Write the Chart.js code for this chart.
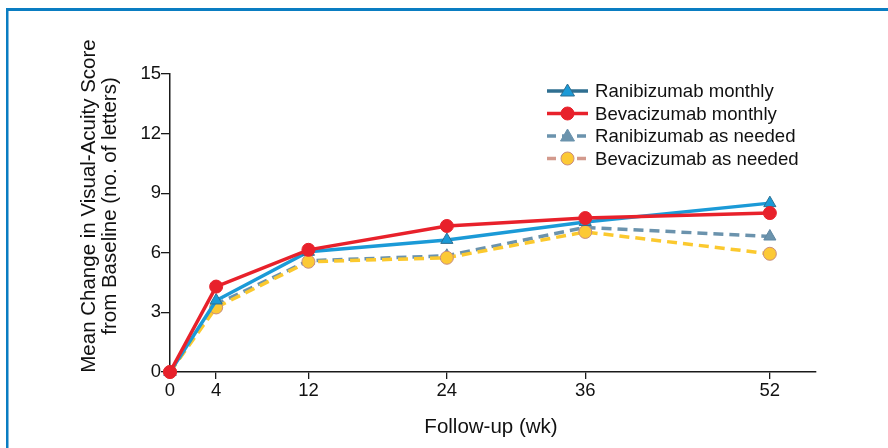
<!DOCTYPE html>
<html>
<head>
<meta charset="utf-8">
<script src="https://cdn.jsdelivr.net/npm/chart.js@4"></script>
<style>
html,body{margin:0;padding:0;background:#fff;}
#wrap{width:888px;height:448px;position:relative;}
</style>
</head>
<body>
<div id="wrap"><canvas id="c" width="888" height="448"></canvas></div>
<script>
const weeks = [0, 4, 12, 24, 36, 52];
const xTicks = [0, 4, 12, 24, 36, 52];
const yTicks = [0, 3, 6, 9, 12, 15];
const seriesNames = ["Ranibizumab monthly", "Bevacizumab monthly", "Ranibizumab as needed", "Bevacizumab as needed"];
const raniMonthly = [0, 3.6, 6.05, 6.65, 7.55, 8.5];
const bevaMonthly = [0, 4.3, 6.15, 7.35, 7.75, 8.0];
const raniPRN = [0, 3.4, 5.6, 5.85, 7.28, 6.82];
const bevaPRN = [0, 3.25, 5.55, 5.75, 7.05, 5.95];
const xTitle = "Follow-up (wk)";
const yTitle = ["Mean Change in Visual-Acuity Score", "from Baseline (no. of letters)"];

const FONT = "'Liberation Sans', Arial, Helvetica, sans-serif";
const TEXT = "#111111";
const toXY = (arr) => arr.map((v, i) => ({x: weeks[i], y: v}));

const legendStyles = [
  {line: "#2f6f91", dash: [], marker: "triangle", fill: "#1b9ad7", stroke: "#2f6f91"},
  {line: "#e8212b", dash: [], marker: "circle", fill: "#e8212b", stroke: "#e8212b"},
  {line: "#6b93ad", dash: [9, 6], marker: "triangle", fill: "#6b93ad", stroke: "#6b93ad"},
  {line: "#d39a8d", dash: [9, 6], marker: "circle", fill: "#fcc935", stroke: "#c98d7d"}
];

const framePlugin = {
  id: "frame",
  beforeDraw(chart) {
    const ctx = chart.ctx;
    ctx.save();
    ctx.fillStyle = "#fff";
    ctx.fillRect(0, 0, chart.width, chart.height);
    ctx.fillStyle = "#0a7dc2";
    ctx.fillRect(6, 8, 888 - 6, 3);
    ctx.fillRect(6, 8, 2.5, 448 - 8);
    ctx.restore();
  },
  afterDraw(chart) {
    const ctx = chart.ctx;
    ctx.save();
    ctx.fillStyle = TEXT;
    ctx.font = "20.5px " + FONT;
    ctx.textAlign = "center";
    ctx.textBaseline = "alphabetic";
    ctx.fillText(xTitle, 491, 433);
    ctx.save();
    ctx.translate(95, 206);
    ctx.rotate(-Math.PI / 2);
    ctx.fillText(yTitle[0], 0, 0);
    ctx.fillText(yTitle[1], 0, 21);
    ctx.restore();
    const x0 = 547, x1 = 588, tx = 595;
    const rows = [91, 113.5, 136, 158.5];
    ctx.font = "18.6px " + FONT;
    ctx.textAlign = "left";
    ctx.textBaseline = "middle";
    seriesNames.forEach((name, i) => {
      const s = legendStyles[i];
      const y = rows[i];
      ctx.save();
      ctx.strokeStyle = s.line;
      ctx.lineWidth = 3.5;
      ctx.setLineDash(s.dash);
      ctx.beginPath();
      ctx.moveTo(x0, y);
      ctx.lineTo(x1, y);
      ctx.stroke();
      ctx.setLineDash([]);
      const cx = (x0 + x1) / 2;
      ctx.fillStyle = s.fill;
      ctx.strokeStyle = s.stroke;
      ctx.lineWidth = 1;
      ctx.beginPath();
      if (s.marker === "circle") {
        ctx.arc(cx, y, 6.5, 0, Math.PI * 2);
      } else {
        ctx.moveTo(cx, y - 7);
        ctx.lineTo(cx + 7, y + 5);
        ctx.lineTo(cx - 7, y + 5);
        ctx.closePath();
      }
      ctx.fill();
      ctx.stroke();
      ctx.restore();
      ctx.fillStyle = TEXT;
      ctx.fillText(name, tx, y + 1);
    });
    ctx.restore();
  }
};

new Chart(document.getElementById("c"), {
  type: "line",
  data: {
    datasets: [
      {label: seriesNames[0], data: toXY(raniMonthly), borderColor: "#1b9ad7", backgroundColor: "#1b9ad7",
        pointBackgroundColor: "#1b9ad7", pointBorderColor: "#2f6f91", pointBorderWidth: 1,
        pointStyle: "triangle", pointRadius: 7, borderWidth: 3.5, order: 2},
      {label: seriesNames[1], data: toXY(bevaMonthly), borderColor: "#e8212b", backgroundColor: "#e8212b",
        pointBackgroundColor: "#e8212b", pointBorderColor: "#e8212b", pointBorderWidth: 1,
        pointStyle: "circle", pointRadius: 6.5, borderWidth: 3.5, order: 1},
      {label: seriesNames[2], data: toXY(raniPRN), borderColor: "#6b93ad", backgroundColor: "#6b93ad",
        pointBackgroundColor: "#6b93ad", pointBorderColor: "#5f87a2", pointBorderWidth: 1,
        pointStyle: "triangle", pointRadius: 7, borderWidth: 3.5, borderDash: [10, 6], order: 4},
      {label: seriesNames[3], data: toXY(bevaPRN), borderColor: "#fbc92e", backgroundColor: "#fcc935",
        pointBackgroundColor: "#fcc935", pointBorderColor: "#c98d7d", pointBorderWidth: 1,
        pointStyle: "circle", pointRadius: 6.5, borderWidth: 3.5, borderDash: [10, 6], order: 3}
    ]
  },
  options: {
    responsive: false,
    animation: false,
    clip: false,
    layout: {padding: {top: 74, right: 72, bottom: 0, left: 0}},
    plugins: {legend: {display: false}, tooltip: {enabled: false}, title: {display: false}},
    scales: {
      x: {
        type: "linear", min: 0, max: 56,
        afterBuildTicks: (s) => { s.ticks = xTicks.map(v => ({value: v})); },
        afterFit: (s) => { s.height = 448 - 372; },
        grid: {display: true, drawOnChartArea: false, drawTicks: true, tickLength: 7, color: "#1a1a1a", lineWidth: 1.3},
        border: {display: true, color: "#1a1a1a", width: 1.5},
        ticks: {color: TEXT, font: {family: FONT, size: 18.5}, padding: 1, maxRotation: 0, autoSkip: false}
      },
      y: {
        type: "linear", min: 0, max: 15,
        afterBuildTicks: (s) => { s.ticks = yTicks.map(v => ({value: v})); },
        afterFit: (s) => { s.width = 170; },
        grid: {display: true, drawOnChartArea: false, drawTicks: true, tickLength: 9, color: "#1a1a1a", lineWidth: 1.3},
        border: {display: true, color: "#1a1a1a", width: 1.5},
        ticks: {color: TEXT, font: {family: FONT, size: 18.5}, padding: 0}
      }
    }
  },
  plugins: [framePlugin]
});
</script>
</body>
</html>
